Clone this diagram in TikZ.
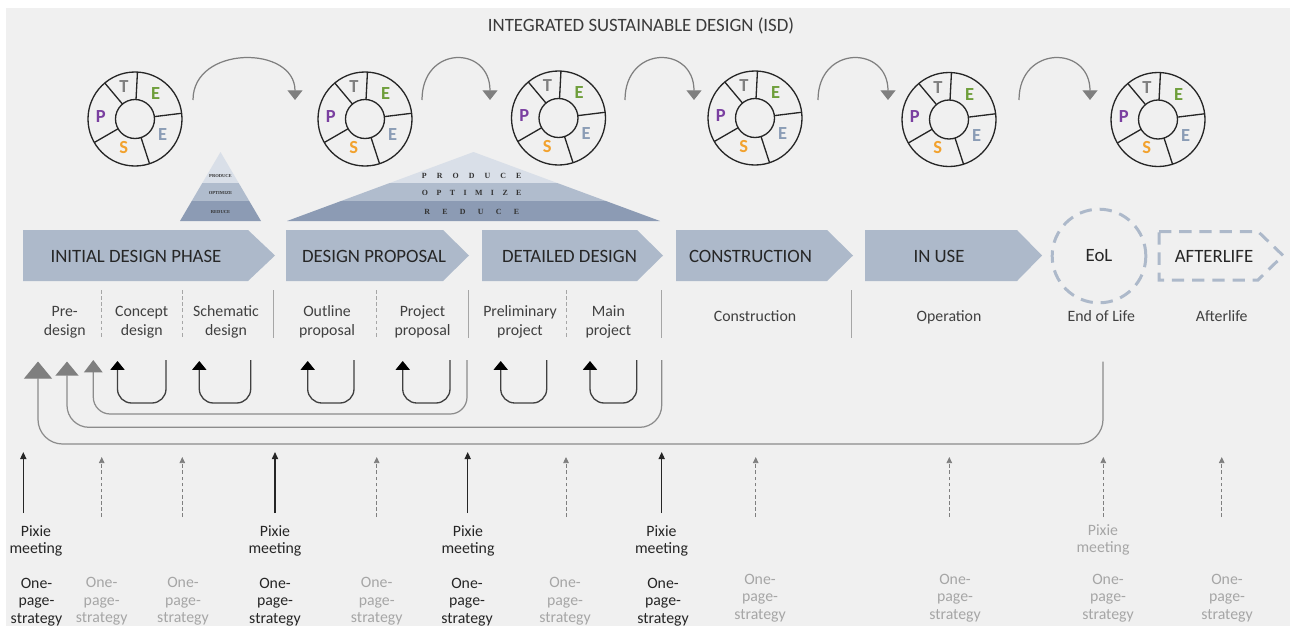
\documentclass[tikz,border=0pt]{standalone}
\usepackage{fontspec}
\setmainfont{Carlito}
\newfontfamily\pyrfont{Liberation Serif}
\usetikzlibrary{arrows.meta,calc}
\definecolor{bg}{HTML}{F0F0F0}
\definecolor{chev}{HTML}{ADB9CA}
\definecolor{pyA}{HTML}{D9DFE8}
\definecolor{pyB}{HTML}{B0BCCD}
\definecolor{pyC}{HTML}{8C9BB4}
\definecolor{txt}{HTML}{262626}
\definecolor{titlec}{HTML}{3A3A3A}
\definecolor{subtxt}{HTML}{404040}
\definecolor{gtxt}{HTML}{A6A6A6}
\definecolor{garr}{HTML}{7F7F7F}
\definecolor{bigc}{HTML}{8C8C8C}
\definecolor{sep}{HTML}{A6A6A6}
\definecolor{wheelc}{HTML}{262626}
\definecolor{uloopc}{HTML}{404040}
\definecolor{cP}{HTML}{7A3FA0}
\definecolor{cT}{HTML}{808080}
\definecolor{cEg}{HTML}{6E9E3A}
\definecolor{cEb}{HTML}{8A9CB5}
\definecolor{cS}{HTML}{F2A22E}
\definecolor{pyt}{HTML}{333333}
\tikzset{
  wheel/.style={draw=wheelc, line width=0.75pt},
  wl/.style={font=\fontsize{10.5}{10.5}\selectfont\bfseries, inner sep=0pt},
  curv/.style={draw=garr, line width=0.7pt, -{Triangle[length=5.5pt,width=8.5pt]}},
  chevfill/.style={fill=chev},
  chevdash/.style={draw=chev, line width=1.7pt, dash pattern=on 7pt off 4.5pt},
  phase/.style={font=\fontsize{10.7}{12}\selectfont, text=txt, anchor=base, inner sep=0pt},
  subl/.style={font=\fontsize{9}{10.9}\selectfont, text=subtxt, inner sep=0pt, align=center},
  sepdash/.style={draw=sep, line width=0.5pt, dash pattern=on 2pt off 1.5pt},
  sepsolid/.style={draw=sep, line width=0.7pt},
  uloop/.style={draw=uloopc, line width=0.75pt, rounded corners=8pt, -{Triangle[length=5pt,width=8pt,color=black]}},
  bigloop/.style={draw=bigc, line width=0.7pt},
  pixarrow/.style={draw=txt, line width=0.7pt, -{Triangle[length=4pt,width=3.5pt]}},
  pixdash/.style={draw=garr, line width=0.5pt, dash pattern=on 2pt off 1.5pt, -{Triangle[length=3.5pt,width=3.2pt]}},
  bot/.style={font=\fontsize{9}{10}\selectfont, inner sep=0pt, align=center, anchor=north},
  pyts/.style={font=\pyrfont\fontsize{2.6}{3}\selectfont\bfseries, text=pyt, inner sep=0pt},
  pytl/.style={font=\pyrfont\fontsize{4.5}{5}\selectfont\bfseries, text=pyt, inner sep=0pt},
}
\newcommand{\pteswheel}[3]{%
  \coordinate (#1) at (#2,#3);
  \draw[wheel] (#1) circle[radius=47];
  \draw[wheel] (#1) circle[radius=19.5];
  \foreach \a in {-130,-87,-7,72,150}
    \draw[wheel] ($(#1)+(\a:19.5)$) -- ($(#1)+(\a:47)$);
  \node[wl, text=cT] (#1-T) at ($(#1)+(-11,-32)$) {T};
  \node[wl, text=cEg] (#1-Eg) at ($(#1)+(20.7,-25.3)$) {E};
  \node[wl, text=cP] (#1-P) at ($(#1)+(-34.3,-2.7)$) {P};
  \node[wl, text=cEb] (#1-Eb) at ($(#1)+(27.7,15.7)$) {E};
  \node[wl, text=cS] (#1-S) at ($(#1)+(-11.3,28.3)$) {S};
}
\begin{document}
\begin{tikzpicture}[x=0.02cm,y=-0.02cm]
\useasboundingbox (0,0) rectangle (1290,626);
\fill[white] (0,0) rectangle (1290,626);
\fill[bg] (6,8) rectangle (1290,626);

% title
\node[phase, text=titlec] (title) at (641,31) {INTEGRATED SUSTAINABLE DESIGN (ISD)};

% wheels
\pteswheel{w1}{135}{119}
\pteswheel{w2}{365}{119}
\pteswheel{w3}{558.5}{118}
\pteswheel{w4}{755}{118}
\pteswheel{w5}{949}{119.5}
\pteswheel{w6}{1158}{119.5}

% curved arrows between wheels
\foreach \s/\e/\n in {193/295/1, 422/490/2, 625/694/3, 818/888/4, 1019/1090/5} {
  \coordinate (cs\n) at (\s,100);
  \coordinate (ce\n) at (\e,100);
  \draw[curv] (cs\n) .. controls +(0,-55) and +(0,-55) .. (ce\n);
}

% small pyramid
\begin{scope}
  \clip (220.5,152) -- (261,221) -- (180,221) -- cycle;
  \fill[pyA] (170,145) rectangle (270,183);
  \fill[pyB] (170,183) rectangle (270,201);
  \fill[pyC] (170,201) rectangle (270,225);
\end{scope}
\node[pyts] (sp1) at (220.5,176) {PRODUCE};
\node[pyts] (sp2) at (220.5,192.7) {OPTIMIZE};
\node[pyts] (sp3) at (220.5,211.7) {REDUCE};

% large pyramid
\begin{scope}
  \clip (473.5,152) -- (660,221) -- (287,221) -- cycle;
  \fill[pyA] (280,145) rectangle (670,183);
  \fill[pyB] (280,183) rectangle (670,201);
  \fill[pyC] (280,201) rectangle (670,225);
\end{scope}
\node[pytl] (lp1) at (471.7,175.7) {\makebox[56.7pt]{P\hfill R\hfill O\hfill D\hfill U\hfill C\hfill E}};
\node[pytl] (lp2) at (471.7,192.7) {\makebox[56.7pt]{O\hfill P\hfill T\hfill I\hfill M\hfill I\hfill Z\hfill E}};
\node[pytl] (lp3) at (471.7,212) {\makebox[54pt]{R\hfill E\hfill D\hfill U\hfill C\hfill E}};

% phase chevrons
\foreach \a/\b/\c in {23/248/275, 286/443/469, 482/637/663, 676/827/853, 865/1017/1042}
  \fill[chevfill] (\a,230) -- (\b,230) -- (\c,255.5) -- (\b,281) -- (\a,281) -- cycle;
\draw[chevdash] (1159,231.5) -- (1258,231.5) -- (1283,255.5) -- (1258,280) -- (1159,280) -- cycle;

\node[phase] (p1) at (136,262.5) {INITIAL DESIGN PHASE};
\node[phase] (p2) at (374,262.5) {DESIGN PROPOSAL};
\node[phase] (p3) at (569.5,262.5) {DETAILED DESIGN};
\node[phase] (p4) at (750.5,262.5) {CONSTRUCTION};
\node[phase] (p5) at (939,262.5) {IN USE};
\node[circle, chevdash, minimum size=53.3pt, inner sep=0pt, font=\fontsize{10.7}{12}\selectfont, text=txt] (eol) at (1099,256) {EoL};
\node[phase] (p7) at (1214,262.5) {AFTERLIFE};

% sub-phase labels
\foreach \x/\t/\n in {64.7/{Pre-\\design}/s1, 141.7/{Concept\\design}/s2, 226/{Schematic\\design}/s3,
  327/{Outline\\proposal}/s4, 422.5/{Project\\proposal}/s5, 520/{Preliminary\\project}/s6, 608.3/{Main\\project}/s7}
  \node[subl, anchor=north] (\n) at (\x,303) {\strut\t};
\foreach \x/\t/\n in {755/Construction/s8, 949/Operation/s9, 1101.3/End of Life/s10, 1221.7/Afterlife/s11}
  \node[subl, anchor=base] (\n) at (\x,321) {\t};

% separators
\foreach \x in {101.7,182.7,376.7,566}
  \draw[sepdash] (\x,290) -- (\x,338);
\foreach \x in {273.3,468.3,661.7,851.7}
  \draw[sepsolid] (\x,290) -- (\x,338);

% small U loops
\foreach \l/\r/\n in {117.5/166/1, 199.3/250.7/2, 307.7/354/3, 402.7/450/4, 500.7/546.7/5, 590/636.7/6} {
  \coordinate (us\n) at (\r,360);
  \coordinate (ue\n) at (\l,361);
  \draw[uloop] (us\n) -- (\r,403) -- (\l,403) -- (ue\n);
}

% big loops
\coordinate (la-s) at (467,360);   \coordinate (la-e) at (93.3,360);
\coordinate (lb-s) at (661.7,360); \coordinate (lb-e) at (67,361.5);
\coordinate (lc-s) at (1103,361.5);\coordinate (lc-e) at (38,361.5);
\draw[bigloop, rounded corners=9.6pt, -{Triangle[length=7pt,width=10.5pt,color=garr]}]
  (la-s) -- (467,414) -- (93.3,414) -- (la-e);
\draw[bigloop, rounded corners=12.5pt, -{Triangle[length=8pt,width=13pt,color=garr]}]
  (lb-s) -- (661.7,427.3) -- (67,427.3) -- (lb-e);
\draw[bigloop, rounded corners=14pt, -{Triangle[length=9.8pt,width=16pt,color=garr]}]
  (lc-s) -- (1103,444) -- (38,444) -- (lc-e);

% bottom arrows
\foreach \x [count=\i] in {23.3,275,467.7,661.7} {
  \coordinate (ps\i) at (\x,513); \coordinate (pe\i) at (\x,452);
  \draw[pixarrow] (ps\i) -- (pe\i);
}
\foreach \x [count=\i] in {101.7,182.3,376.7,566,755.7,949.3,1103.3,1221.7} {
  \coordinate (ds\i) at (\x,517); \coordinate (de\i) at (\x,457);
  \draw[pixdash] (ds\i) -- (de\i);
}

% pixie meeting labels
\foreach \x [count=\i] in {36,275,468,661.5}
  \node[bot, text=txt] (pm\i) at (\x,523.6) {\strut Pixie\\meeting};
\node[bot, text=gtxt] (pm5) at (1103,522.6) {\strut Pixie\\meeting};

% one-page-strategy labels
\foreach \x [count=\i] in {36.5,275,467,663}
  \node[bot, text=txt] (ob\i) at (\x,575.6) {\strut One-\\page-\\strategy};
\foreach \x [count=\i] in {101.7,183,376.7,565}
  \node[bot, text=gtxt] (og\i) at (\x,575) {\strut One-\\page-\\strategy};
\foreach \x [count=\i from 5] in {760,955,1108,1227}
  \node[bot, text=gtxt] (og\i) at (\x,571.5) {\strut One-\\page-\\strategy};
\end{tikzpicture}
\end{document}
